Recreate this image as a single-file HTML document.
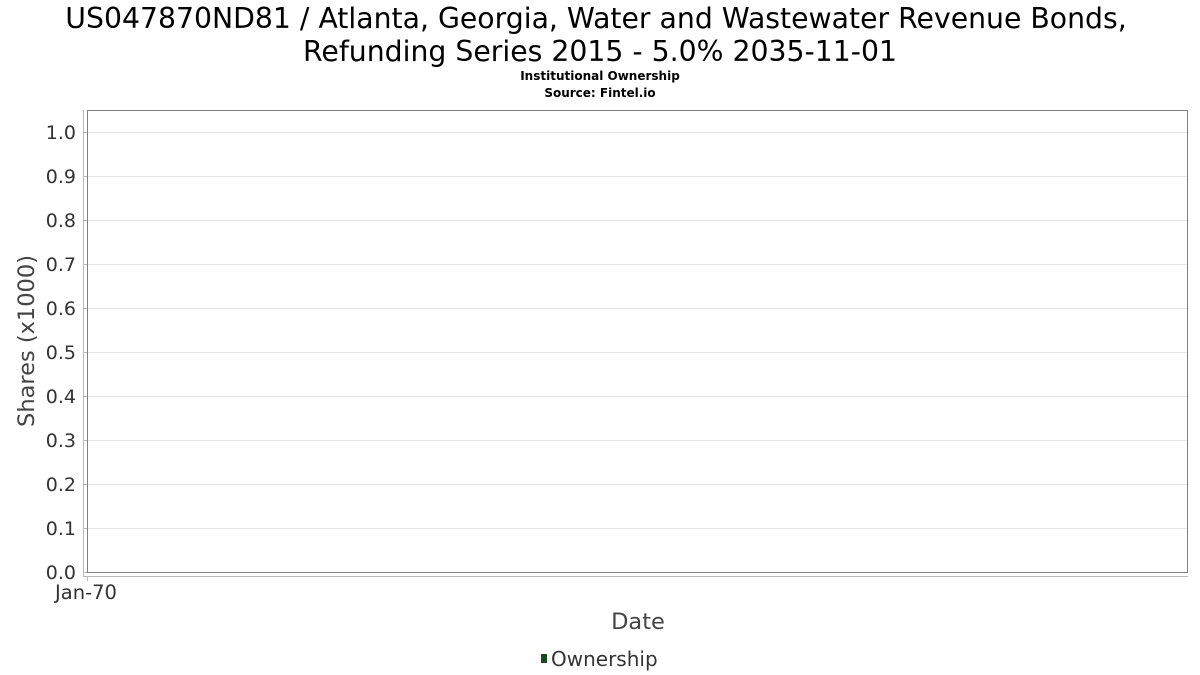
<!DOCTYPE html>
<html>
<head>
<meta charset="utf-8">
<style>
html,body{margin:0;padding:0;background:#fff;}
svg{display:block;font-family:"DejaVu Sans","Liberation Sans",sans-serif;}
</style>
</head>
<body>
<svg width="1200" height="675" viewBox="0 0 1200 675" xmlns="http://www.w3.org/2000/svg">
<rect width="1200" height="675" fill="#fff"/>
<text x="596" y="28" font-size="28.3" text-anchor="middle" fill="#000">US047870ND81 / Atlanta, Georgia, Water and Wastewater Revenue Bonds,</text>
<text x="600" y="61" font-size="28.3" text-anchor="middle" fill="#000">Refunding Series 2015 - 5.0% 2035-11-01</text>
<text x="600" y="80" font-size="12" font-weight="bold" text-anchor="middle" fill="#000">Institutional Ownership</text>
<text x="600" y="97" font-size="12" font-weight="bold" text-anchor="middle" fill="#000">Source: Fintel.io</text>

<g stroke="#e3e3e3" stroke-width="1">
<line x1="88" y1="132.5" x2="1188" y2="132.5"/>
<line x1="88" y1="176.5" x2="1188" y2="176.5"/>
<line x1="88" y1="220.5" x2="1188" y2="220.5"/>
<line x1="88" y1="264.5" x2="1188" y2="264.5"/>
<line x1="88" y1="308.5" x2="1188" y2="308.5"/>
<line x1="88" y1="352.5" x2="1188" y2="352.5"/>
<line x1="88" y1="396.5" x2="1188" y2="396.5"/>
<line x1="88" y1="440.5" x2="1188" y2="440.5"/>
<line x1="88" y1="484.5" x2="1188" y2="484.5"/>
<line x1="88" y1="528.5" x2="1188" y2="528.5"/>
</g>
<rect x="87.5" y="110.5" width="1100" height="462" fill="none" stroke="#808080" stroke-width="1"/>

<g stroke="#bbbbbb" stroke-width="1">
<line x1="83.5" y1="110" x2="83.5" y2="577"/>
<line x1="83" y1="576.5" x2="1188" y2="576.5"/>
<line x1="83" y1="132.5" x2="87" y2="132.5"/>
<line x1="83" y1="176.5" x2="87" y2="176.5"/>
<line x1="83" y1="220.5" x2="87" y2="220.5"/>
<line x1="83" y1="264.5" x2="87" y2="264.5"/>
<line x1="83" y1="308.5" x2="87" y2="308.5"/>
<line x1="83" y1="352.5" x2="87" y2="352.5"/>
<line x1="83" y1="396.5" x2="87" y2="396.5"/>
<line x1="83" y1="440.5" x2="87" y2="440.5"/>
<line x1="83" y1="484.5" x2="87" y2="484.5"/>
<line x1="83" y1="528.5" x2="87" y2="528.5"/>
<line x1="83" y1="572.5" x2="87" y2="572.5"/>
<line x1="87.5" y1="577" x2="87.5" y2="581"/>
</g>

<g font-size="19" fill="#333" text-anchor="end">
<text x="76" y="139">1.0</text>
<text x="76" y="183">0.9</text>
<text x="76" y="227">0.8</text>
<text x="76" y="271">0.7</text>
<text x="76" y="315">0.6</text>
<text x="76" y="359">0.5</text>
<text x="76" y="403">0.4</text>
<text x="76" y="447">0.3</text>
<text x="76" y="491">0.2</text>
<text x="76" y="535">0.1</text>
<text x="76" y="579">0.0</text>
</g>
<text x="86" y="599" font-size="19.5" fill="#333" text-anchor="middle">Jan-70</text>

<text x="0" y="0" font-size="22.5" fill="#444" text-anchor="middle" transform="translate(34,341) rotate(-90)">Shares (x1000)</text>
<text x="638" y="629" font-size="22.5" fill="#444" text-anchor="middle">Date</text>

<rect x="541" y="654" width="6" height="9" fill="#1b4a22"/>
<text x="551" y="666" font-size="20" fill="#333">Ownership</text>
</svg>
</body>
</html>
